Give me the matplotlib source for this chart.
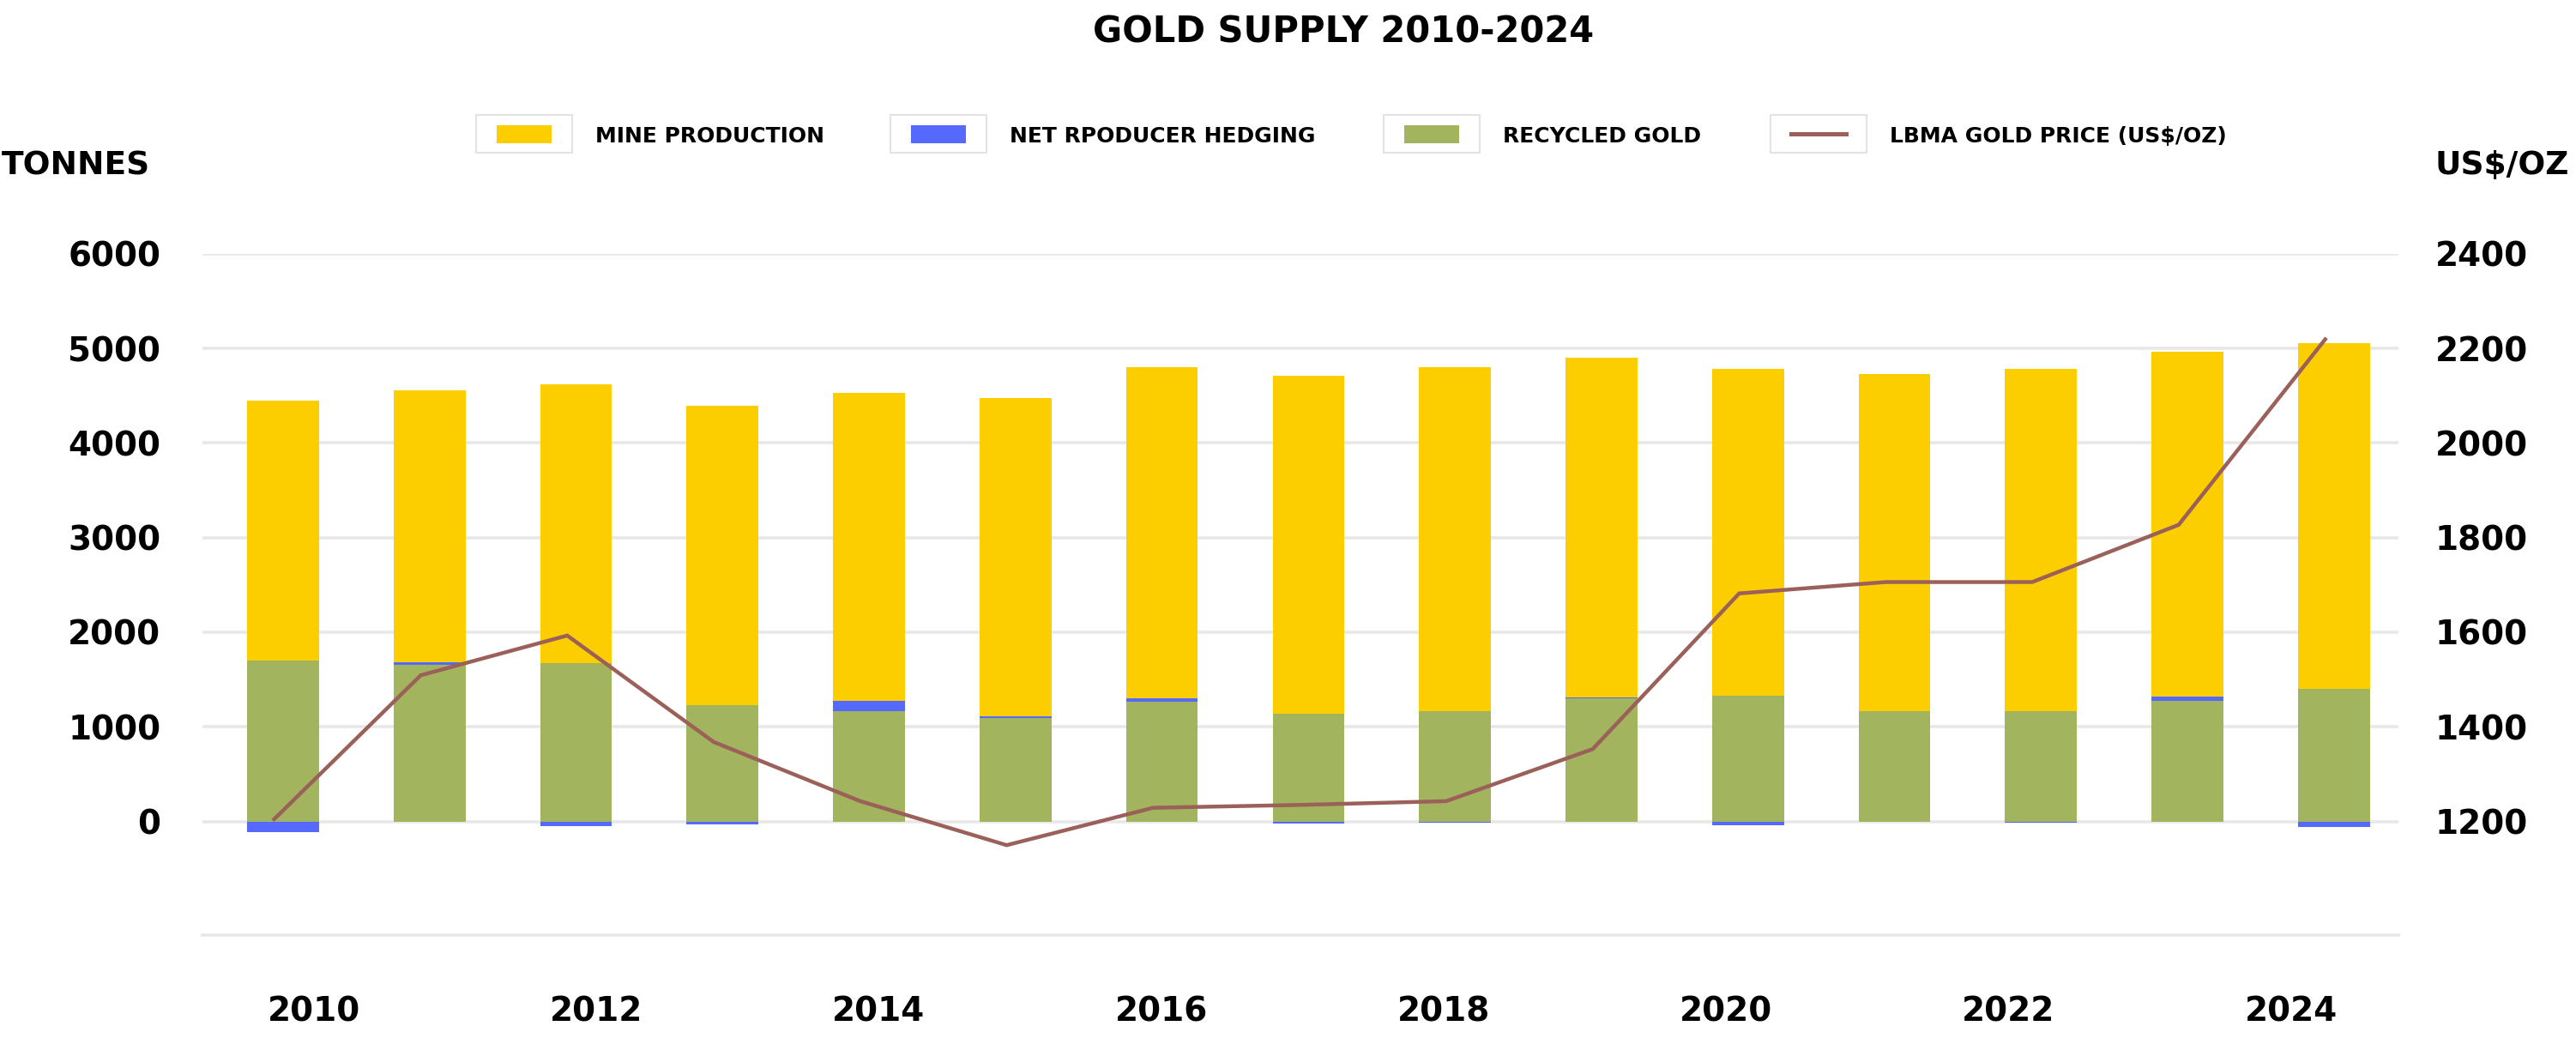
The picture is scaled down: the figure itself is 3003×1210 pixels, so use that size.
import matplotlib
matplotlib.use('Agg')
import matplotlib.pyplot as plt
from matplotlib.patches import Rectangle
from matplotlib.lines import Line2D
import numpy as np

# 数据（吨 / 美元每盎司）
years = list(range(2010, 2025))
mine = [2750, 2868, 2943, 3163, 3254, 3359, 3503, 3575, 3635, 3597, 3459, 3563, 3621, 3648, 3651]
hedging = [-110, 30, -50, -28, 105, 15, 30, -26, -12, 6, -39, -6, -12, 45, -57]
recycled = [1699, 1654, 1672, 1226, 1166, 1096, 1268, 1139, 1166, 1301, 1328, 1166, 1166, 1271, 1403]
price = [1205, 1509, 1593, 1368, 1243, 1150, 1229, 1235, 1243, 1353, 1682, 1706, 1706, 1827, 2219]
year_labels = ['2010', '2012', '2014', '2016', '2018', '2020', '2022', '2024']
left_ticks = [0, 1000, 2000, 3000, 4000, 5000, 6000]
right_ticks = [1200, 1400, 1600, 1800, 2000, 2200, 2400]

YELLOW = '#FCCE00'
BLUE = '#5669FF'
GREEN = '#A2B45D'
LINE = '#9B605A'
GRID = '#E8E8E8'

W, H = 3003, 1210
plt.rcParams['font.family'] = ['DejaVu Sans']
plt.rcParams['font.weight'] = 'bold'
fig = plt.figure(figsize=(W / 100, H / 100), dpi=100)


def fx(px):
    return px / W


def fy(py):
    return 1 - py / H


ax = fig.add_axes([fx(236), fy(1090), (2796 - 236) / W, (1090 - 295.7) / H])

x = np.arange(len(years))
rec = np.array(recycled)
hed = np.array(hedging)
hed_pos = np.clip(hed, 0, None)
hed_neg = np.clip(hed, None, 0)
bw = 0.49
ax.bar(x, rec, bw, color=GREEN, linewidth=0)
ax.bar(x, hed_pos, bw, bottom=rec, color=BLUE, linewidth=0)
ax.bar(x, hed_neg, bw, color=BLUE, linewidth=0)
ax.bar(x, mine, bw, bottom=rec + hed_pos, color=YELLOW, linewidth=0)

ax.set_xlim(-0.55, 14.44)
ax.set_ylim(-1200, 6000)
ax.set_yticks(left_ticks)
ax.set_yticklabels([str(v) for v in left_ticks])
ax.grid(axis='y', color=GRID, linewidth=2.6)
ax.set_axisbelow(True)
for s in ['top', 'left', 'right']:
    ax.spines[s].set_visible(False)
ax.spines['bottom'].set_color(GRID)
ax.spines['bottom'].set_linewidth(2.6)
ax.tick_params(axis='y', length=0, labelsize=28, pad=35)

# 年份标签位置与柱子并不完全对齐（按原图）
label_years = np.array([int(y) for y in year_labels]) - 2010
ax.set_xticks(0.21 + 0.964 * label_years)
ax.set_xticklabels(year_labels)
ax.tick_params(axis='x', length=0, labelsize=28, pad=51)

ax2 = ax.twinx()
ax2.plot(x - 0.06, price, color=LINE, linewidth=3.2, solid_joinstyle='miter')
ax2.set_ylim(960, 2400)
ax2.set_yticks(right_ticks)
ax2.set_yticklabels([str(v) for v in right_ticks])
ax2.tick_params(axis='y', length=0, labelsize=28, pad=31)
for s in ['top', 'left', 'right', 'bottom']:
    ax2.spines[s].set_visible(False)

# 标题和坐标轴名称
fig.text(fx(1566), fy(38), 'GOLD SUPPLY 2010-2024', ha='center', va='center',
         fontsize=30, fontweight='bold')
fig.text(fx(2), fy(193), 'TONNES', ha='left', va='center', fontsize=27)
fig.text(fx(2839), fy(193), 'US\\$/OZ', ha='left', va='center', fontsize=27)

# 图例（每个色块外有浅灰色边框）
legend_items = [
    (555, 'MINE PRODUCTION', 'bar', YELLOW),
    (1038, 'NET RPODUCER HEDGING', 'bar', BLUE),
    (1613, 'RECYCLED GOLD', 'bar', GREEN),
    (2064, 'LBMA GOLD PRICE (US\\$/OZ)', 'line', LINE),
]
for x0, label, kind, color in legend_items:
    fig.add_artist(Rectangle((fx(x0), fy(178)), 112 / W, 44 / H, facecolor='white',
                             edgecolor='#E3E3E3', linewidth=1.5))
    if kind == 'bar':
        fig.add_artist(Rectangle((fx(x0 + 24), fy(167)), 64 / W, 21 / H, facecolor=color,
                                 linewidth=0))
    else:
        fig.add_artist(Line2D([fx(x0 + 24), fx(x0 + 88)], [fy(156), fy(156)], color=color,
                              linewidth=3.6))
    fig.text(fx(x0 + 139), fy(159), label, ha='left', va='center', fontsize=18)

fig.savefig('out.png', dpi=100, facecolor='white')
